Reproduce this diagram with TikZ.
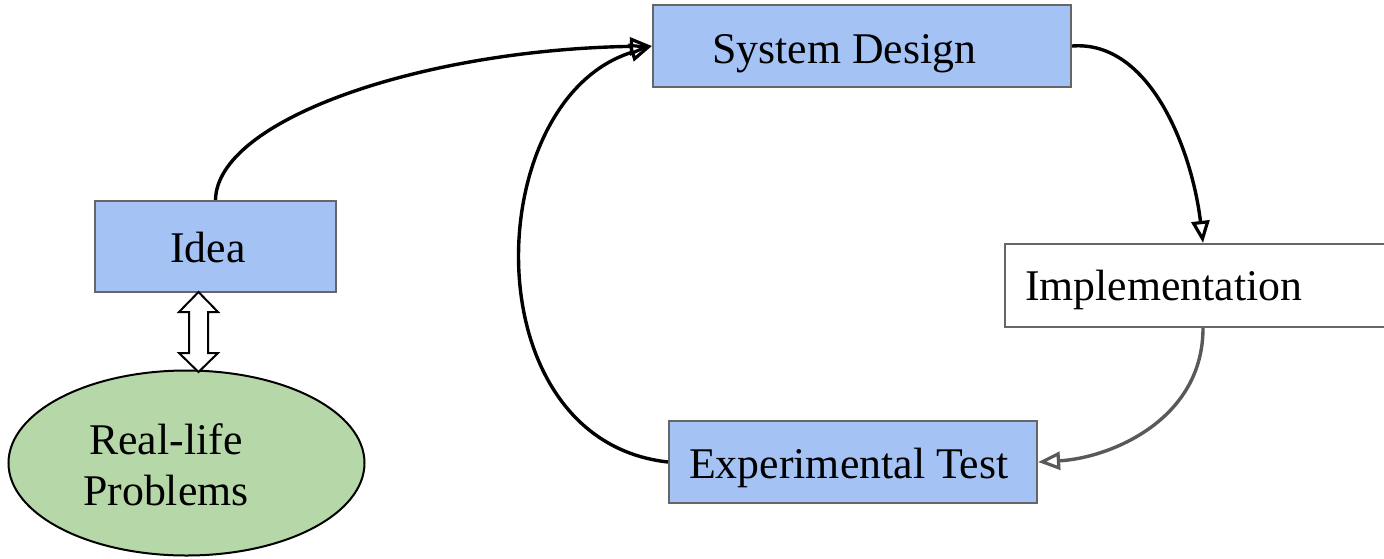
\documentclass[tikz,border=0pt]{standalone}
\usepackage{fontspec}
\setmainfont{Liberation Serif}
\usetikzlibrary{arrows.meta,shapes.geometric}
\definecolor{boxblue}{HTML}{A4C2F4}
\definecolor{boxgreen}{HTML}{B6D7A8}
\definecolor{edgegray}{HTML}{666666}
\definecolor{arrowgray}{HTML}{595959}
\tikzset{
  box/.style={draw=edgegray, line width=2.2pt, rectangle, inner sep=0pt},
  bluebox/.style={box, fill=boxblue},
  whitebox/.style={box, fill=white},
  lbl/.style={anchor=base west, inner sep=0pt, font=\fontsize{43.8}{50}\selectfont},
  flow/.style={line width=3.4pt, -{Triangle[open, length=22pt, width=18pt, line width=3.2pt]}},
}
\begin{document}
\begin{tikzpicture}[x=1pt,y=-1pt]
\useasboundingbox (0,0) rectangle (1384,558);
% boxes
\node[bluebox, minimum width=418pt, minimum height=82pt] (sd) at (862,46) {};
\node[bluebox, minimum width=241pt, minimum height=91pt] (idea) at (215.5,246.5) {};
\node[whitebox, minimum width=396pt, minimum height=83pt] (impl) at (1203,285.5) {};
\node[bluebox, minimum width=368pt, minimum height=82pt] (et) at (853,462) {};
\node[ellipse, draw=black, line width=2pt, fill=boxgreen, minimum width=356pt, minimum height=185pt, inner sep=0pt] (rl) at (186.5,463) {};
% labels
\node[lbl] (sdt) at (712,63) {System Design};
\node[lbl] (ideat) at (170,262) {Idea};
\node[lbl] (implt) at (1025,300) {Implementation};
\node[lbl] (ett) at (689,478) {Experimental Test};
\node[lbl] (rlt1) at (89,454) {Real-life};
\node[lbl] (rlt2) at (83,505) {Problems};
% connectors
\draw[flow] (idea.north) .. controls (217,120) and (420,50) .. (sd.west);
\draw[flow] (sd.east) .. controls (1150,40) and (1192,150) .. (impl.north);
\draw[flow, draw=arrowgray] (impl.south) .. controls (1203,420) and (1110,458) .. (et.east);
\draw[flow] (et.west) .. controls (470,440) and (480,100) .. (sd.west);
% double block arrow between Idea and Real-life Problems
\coordinate (dt) at (198.5,292);
\coordinate (db) at (198.5,372);
\draw[line width=2pt, fill=white, line join=miter]
  (dt) -- ++(19.5,20) -- ++(-10,0) -- ++(0,41) -- ++(10,0) -- (db)
  -- ++(-19.5,-19) -- ++(10,0) -- ++(0,-41) -- ++(-10,0) -- cycle;
\end{tikzpicture}
\end{document}
